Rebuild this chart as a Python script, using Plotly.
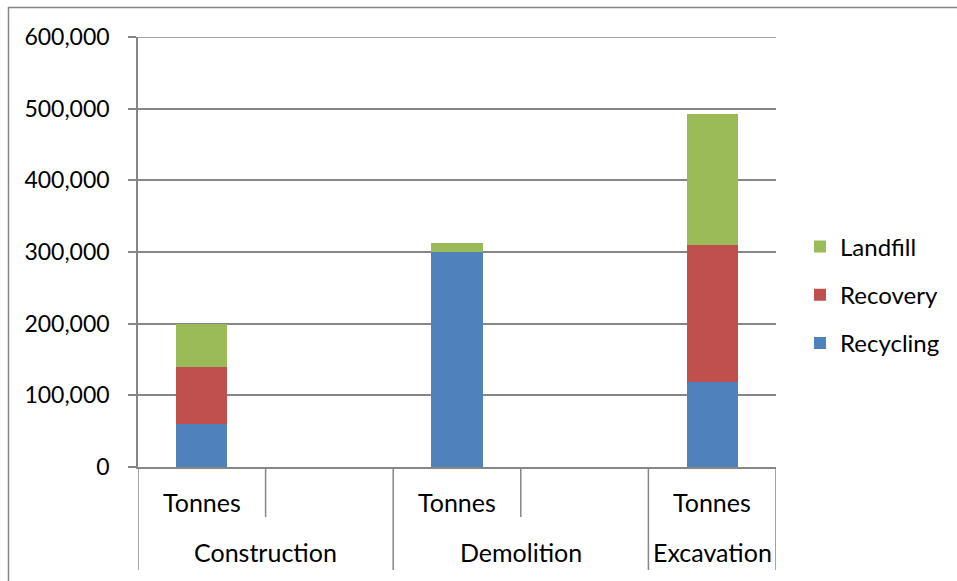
import plotly.graph_objects as go

# ---- data ----
groups = ["Construction", "Demolition", "Excavation"]
group_slots = [2, 2, 1]                 # number of category slots per group
inner_labels = ["Tonnes", "", "Tonnes", "", "Tonnes"]
bar_slots = [0, 2, 4]                   # slot index of each group's "Tonnes" bar
recycling = [60000, 300000, 118000]
recovery = [80000, 0, 192000]
landfill = [60000, 12000, 182000]
y_ticks = [0, 100000, 200000, 300000, 400000, 500000, 600000]

# ---- layout constants ----
W, H = 957, 581
L, R, T, B = 138, 181, 37, 114
PW, PH = W - L - R, H - T - B
GRAY = "#868686"
FONT = "Lato"


def px_x(p):
    return (p - L) / PW


def px_y(p):
    return (H - B - p) / PH


xs = [s + 0.5 for s in bar_slots]

fig = go.Figure()
series = [("Recycling", recycling, "#4F81BD"),
          ("Recovery", recovery, "#C0504D"),
          ("Landfill", landfill, "#9BBB59")]
n_series = len(series)
for idx, (name, vals, col) in enumerate(series):
    fig.add_trace(go.Bar(
        x=xs, y=vals, name=name, width=0.4, legendgroup=name,
        legendrank=n_series - idx,
        marker=dict(color=col, line=dict(width=0)),
    ))

annotations = []
shapes = []
n_slots = len(inner_labels)
# inner labels
for i, lab in enumerate(inner_labels):
    if lab:
        annotations.append(dict(x=i + 0.5, xref="x", y=px_y(502), yref="paper",
                                text=lab, showarrow=False, yanchor="middle",
                                font=dict(family=FONT, size=25, color="#000")))
# group labels and dividers
start = 0
group_bounds = {0}
for g, n in zip(groups, group_slots):
    annotations.append(dict(x=start + n / 2, xref="x", y=px_y(552), yref="paper",
                            text=g, showarrow=False, yanchor="middle",
                            font=dict(family=FONT, size=25, color="#000")))
    start += n
    group_bounds.add(start)
for k in range(n_slots + 1):
    bottom = 570 if k in group_bounds else 517
    shapes.append(dict(type="line", xref="x", yref="paper", x0=k, x1=k,
                       y0=0, y1=px_y(bottom), line=dict(color=GRAY, width=1.5)))

# top gridline (at the end of the value range)
shapes.append(dict(type="line", xref="x", yref="y", x0=0, x1=n_slots,
                   y0=y_ticks[-1], y1=y_ticks[-1], line=dict(color=GRAY, width=1.5)))

# outer chart border (top and left visible)
shapes.append(dict(type="line", xref="paper", yref="paper", x0=px_x(8), x1=px_x(960),
                   y0=px_y(7.5), y1=px_y(7.5), line=dict(color=GRAY, width=1.5)))
shapes.append(dict(type="line", xref="paper", yref="paper", x0=px_x(8.5), x1=px_x(8.5),
                   y0=px_y(7), y1=px_y(590), line=dict(color=GRAY, width=1.5)))

fig.update_layout(
    width=W, height=H,
    margin=dict(l=L, r=R, t=T, b=B, pad=0),
    paper_bgcolor="white", plot_bgcolor="white",
    barmode="stack",
    font=dict(family=FONT, size=24, color="#000"),
    showlegend=True,
    legend=dict(x=px_x(800), y=px_y(295), xanchor="left", yanchor="middle",
                traceorder="grouped", tracegroupgap=14,
                font=dict(family=FONT, size=24, color="#000"),
                bgcolor="rgba(0,0,0,0)"),
    annotations=annotations,
    shapes=shapes,
    xaxis=dict(range=[0, n_slots], showticklabels=False, showgrid=False,
               zeroline=False, showline=True, linecolor=GRAY, linewidth=1.5,
               ticks="", fixedrange=True),
    yaxis=dict(range=[0, 600000], tickvals=y_ticks, tickformat=",",
               ticks="outside", ticklen=8, tickcolor=GRAY, tickwidth=1.5,
               showgrid=True, gridcolor=GRAY, gridwidth=1.5,
               showline=True, linecolor=GRAY, linewidth=1.5, zeroline=False,
               ticklabelstandoff=14,
               tickfont=dict(family=FONT, size=23, color="#000")),
)

fig.write_html("out.html")
